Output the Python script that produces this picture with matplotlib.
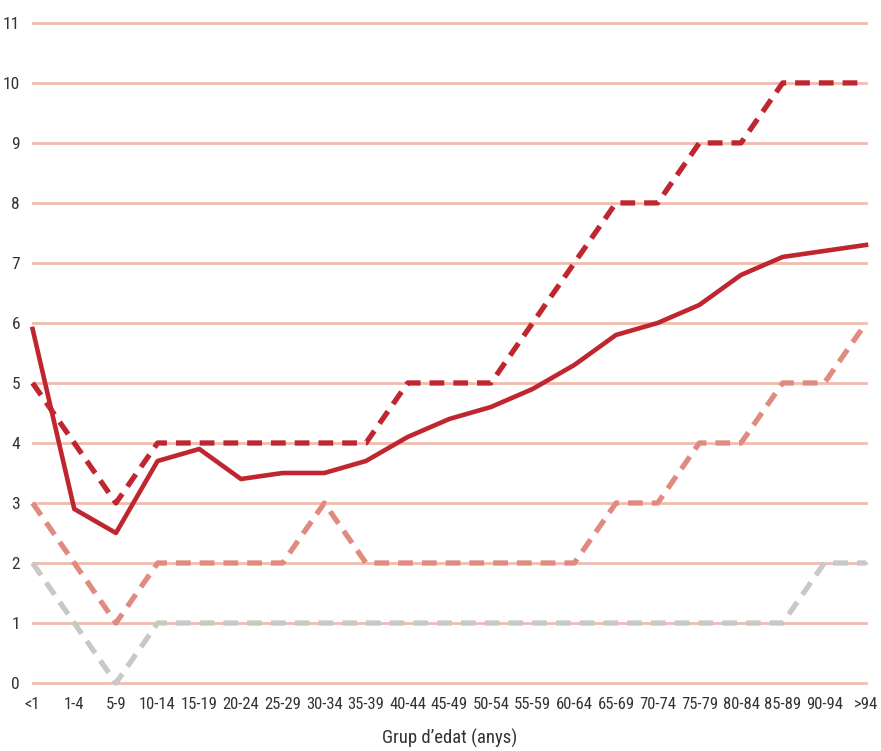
import matplotlib
matplotlib.use("Agg")
import matplotlib.pyplot as plt

plt.rcParams['font.family'] = ['Roboto Condensed', 'DejaVu Sans']

categories = ["<1", "1-4", "5-9", "10-14", "15-19", "20-24", "25-29", "30-34", "35-39",
              "40-44", "45-49", "50-54", "55-59", "60-64", "65-69", "70-74", "75-79",
              "80-84", "85-89", "90-94", ">94"]
mean_vals = [5.9, 2.9, 2.5, 3.7, 3.9, 3.4, 3.5, 3.5, 3.7, 4.1, 4.4, 4.6, 4.9, 5.3,
             5.8, 6.0, 6.3, 6.8, 7.1, 7.2, 7.3]
upper_vals = [5, 4, 3, 4, 4, 4, 4, 4, 4, 5, 5, 5, 6, 7, 8, 8, 9, 9, 10, 10, 10]
median_vals = [3, 2, 1, 2, 2, 2, 2, 3, 2, 2, 2, 2, 2, 2, 3, 3, 4, 4, 5, 5, 6]
lower_vals = [2, 1, 0, 1, 1, 1, 1, 1, 1, 1, 1, 1, 1, 1, 1, 1, 1, 1, 1, 2, 2]
yticks = list(range(0, 12))
xlabel = "Grup d\u2019edat (anys)"

fig = plt.figure(figsize=(8.81, 7.51), dpi=100)
ax = fig.add_axes([0.037, 0.0905, 0.946, 0.879])
x = list(range(len(categories)))

for yv in yticks:
    ax.axhline(yv, color="#efbcae", lw=2.0, zorder=0, clip_on=False)

dash = (0, (2.8, 1.7))
ax.plot(x, lower_vals, color="#c8c8c8", lw=3.8, ls=dash, clip_on=False, zorder=2)
ax.plot(x, median_vals, color="#e08a80", lw=3.8, ls=dash, clip_on=False, zorder=3)
ax.plot(x, upper_vals, color="#c0262f", lw=3.8, ls=dash, clip_on=False, zorder=4)
ax.plot(x, mean_vals, color="#c0262f", lw=3.3, clip_on=False, zorder=5)

ax.set_xlim(0, len(categories) - 1)
ax.set_ylim(0, 11)
ax.set_xticks(x)
ax.set_xticklabels(categories)
ax.set_yticks(yticks)
ax.tick_params(axis="both", length=0, colors="#333333")
ax.tick_params(axis="x", pad=10, labelsize=12)
ax.tick_params(axis="y", pad=9, labelsize=12.5)
for s in ax.spines.values():
    s.set_visible(False)
ax.set_xlabel(xlabel, fontsize=13.5, color="#333333", labelpad=12)

fig.savefig("out.png", dpi=100)
